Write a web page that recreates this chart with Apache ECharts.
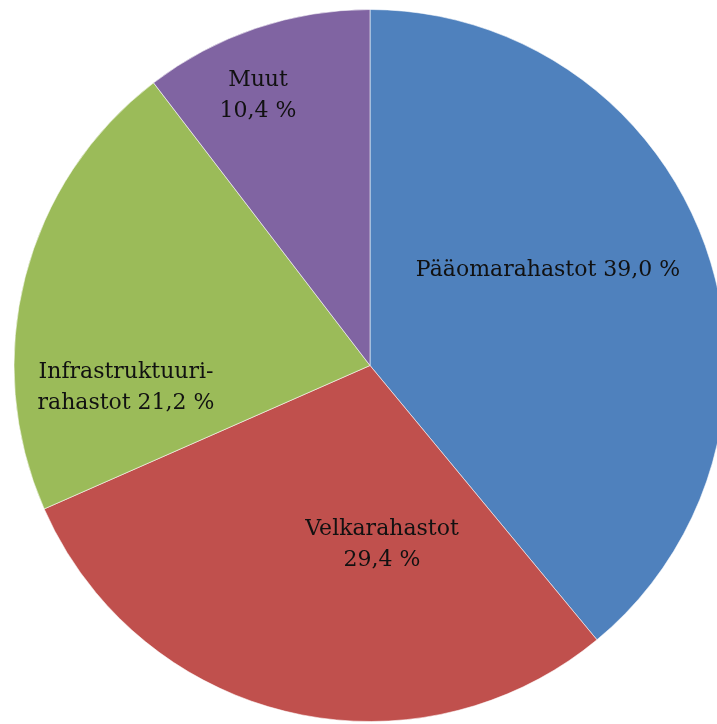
<!DOCTYPE html>
<html>
<head>
<meta charset="utf-8">
<script src="https://cdn.jsdelivr.net/npm/echarts@6/dist/echarts.min.js"></script>
<style>
  html, body { margin: 0; padding: 0; background: #fff; }
  #chart { width: 717px; height: 724px; }
</style>
</head>
<body>
<div id="chart"></div>
<script>
// rahastotyypit ja osuudet (%)
const categories = ['Pääomarahastot', 'Velkarahastot', 'Infrastruktuuri-\nrahastot', 'Muut'];
const values = [39.0, 29.4, 21.2, 10.4];
const colors = ['#4F81BD', '#C0504D', '#9BBB59', '#8064A2'];

// label placement (px, centre of text block)
const labelSpots = [[548, 270], [382, 545], [126, 388], [258, 96]];
const labelJoin = [' ', '\n', ' ', '\n'];

const fmt = v => v.toFixed(1).replace('.', ',') + ' %';

const chart = echarts.init(document.getElementById('chart'));

chart.setOption({
  animation: false,
  series: [{
    type: 'pie',
    center: [370, 365.5],
    radius: 356,
    startAngle: 90,
    clockwise: true,
    data: categories.map((name, i) => ({
      name: name,
      value: values[i],
      itemStyle: { color: colors[i] }
    })),
    itemStyle: {
      borderColor: 'rgba(255,255,255,0.7)',
      borderWidth: 0.8
    },
    label: {
      show: true,
      position: 'inside',
      color: '#111',
      fontFamily: 'DejaVu Serif',
      fontSize: 22,
      lineHeight: 31,
      align: 'center',
      formatter: p => p.name + labelJoin[p.dataIndex] + fmt(p.value)
    },
    labelLine: { show: false },
    labelLayout: p => ({
      x: labelSpots[p.dataIndex][0],
      y: labelSpots[p.dataIndex][1],
      align: 'center',
      verticalAlign: 'middle'
    }),
    emphasis: { disabled: true }
  }]
});
</script>
</body>
</html>
